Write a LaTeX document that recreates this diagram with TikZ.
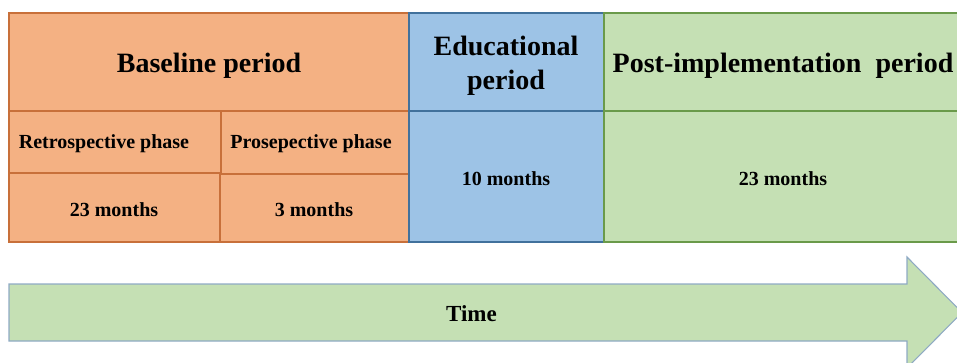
\documentclass[tikz,border=0pt]{standalone}
\usepackage{fontspec}
\setmainfont{Liberation Serif}
\begin{document}
\begin{tikzpicture}[x=1pt,y=-1pt,
  cell/.style={draw, line width=1.1pt, anchor=north west, inner sep=0pt, outer sep=0pt},
  orangecell/.style={cell, fill=orangefill, draw=orangeline},
  bluecell/.style={cell, fill=bluefill, draw=blueline},
  greencell/.style={cell, fill=greenfill, draw=greenline},
  head/.style={font=\fontsize{28}{34}\selectfont\bfseries, align=center, inner sep=0pt},
  small/.style={font=\fontsize{20}{24}\selectfont\bfseries, inner sep=0pt},
  timetext/.style={font=\fontsize{23}{27}\selectfont\bfseries, inner sep=0pt}
]
\definecolor{orangefill}{HTML}{F4B183}
\definecolor{orangeline}{HTML}{C8703A}
\definecolor{bluefill}{HTML}{9DC3E6}
\definecolor{blueline}{HTML}{41719C}
\definecolor{greenfill}{HTML}{C5E0B4}
\definecolor{greenline}{HTML}{6A9A4A}
\definecolor{arrowline}{HTML}{8FAAC4}

\useasboundingbox (0,0) rectangle (957,362);
\begin{scope}
\clip (0,0) rectangle (957,362);

% baseline period
\node[orangecell, minimum width=400pt, minimum height=98pt] (base) at (9,13) {};
\node[orangecell, minimum width=212pt, minimum height=62pt] (retro) at (9,111) {};
\node[orangecell, minimum width=211pt, minimum height=69pt] (retrom) at (9,173) {};
\node[orangecell, minimum width=188pt, minimum height=63pt] (pros) at (221,111) {};
\node[orangecell, minimum width=189pt, minimum height=68pt] (prosm) at (220,174) {};

% educational period
\node[bluecell, minimum width=195pt, minimum height=98pt] (edu) at (409,13) {};
\node[bluecell, minimum width=195pt, minimum height=131pt] (edum) at (409,111) {};

% post-implementation period
\node[greencell, minimum width=360pt, minimum height=98pt] (post) at (604,13) {};
\node[greencell, minimum width=360pt, minimum height=131pt] (postm) at (604,111) {};

% labels
\node[head] (tbase) at (209,66) {Baseline period};
\node[head] (tedu) at (506,66) {Educational\\period};
\node[head] (tpost) at (783,66) {Post-implementation\ \ period};
\node[small] (tretro) at (104,144) {Retrospective phase};
\node[small] (tpros) at (311,144) {Prosepective phase};
\node[small] (tretrom) at (114,210) {23 months};
\node[small] (tprosm) at (314,210) {3 months};
\node[small] (tedum) at (506,179) {10 months};
\node[small] (tpostm) at (783,179) {23 months};

% time arrow
\fill[greenfill] (9,284) -- (907,284) -- (907,257) -- (962,312.5)
  -- (907,368) -- (907,341) -- (9,341) -- cycle;
\draw[arrowline, line width=1.1pt, line join=miter] (9,284) -- (907,284) -- (907,257) -- (962,312.5)
  -- (907,368) -- (907,341) -- (9,341) -- cycle;
\node[timetext] (time) at (471.5,314) {Time};
\end{scope}
\end{tikzpicture}
\end{document}
